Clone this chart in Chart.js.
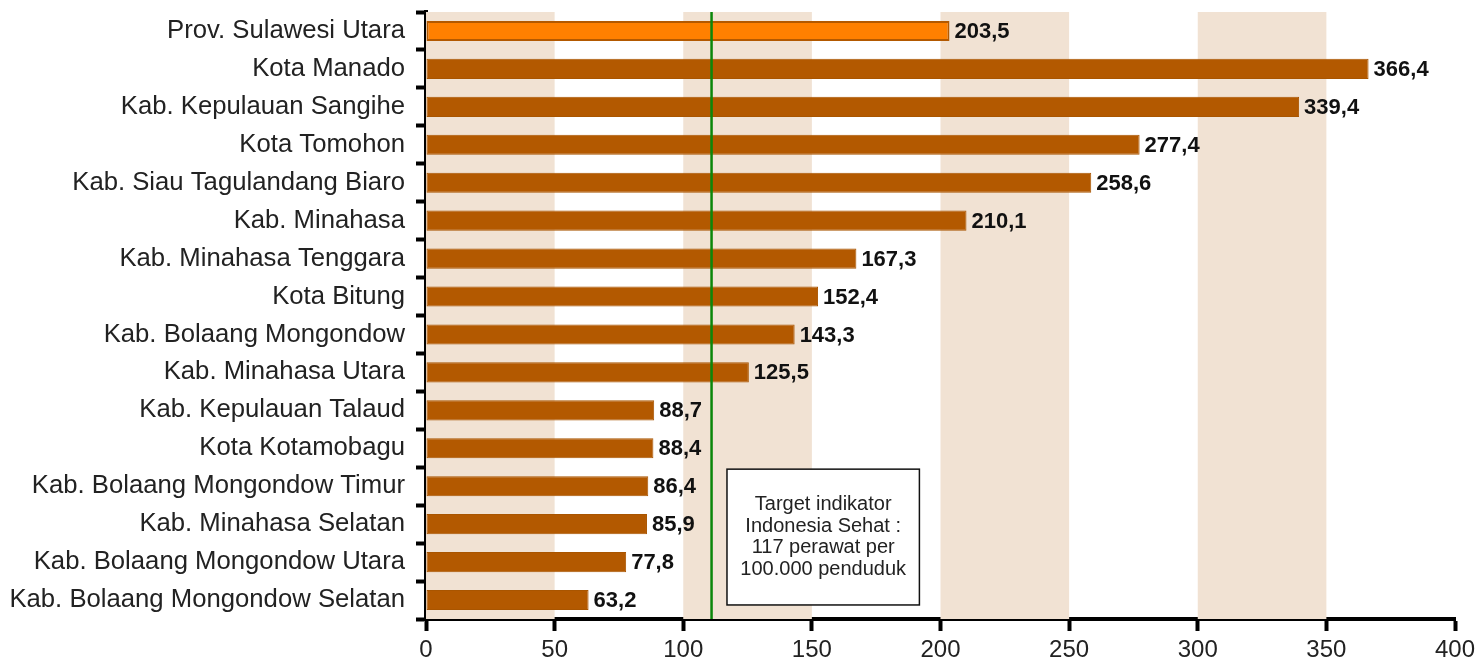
<!DOCTYPE html>
<html>
<head>
<meta charset="utf-8">
<script src="https://cdn.jsdelivr.net/npm/chart.js@4"></script>
<style>
  html, body { margin: 0; padding: 0; background: #fff; }
  #c { display: block; }
</style>
</head>
<body>
<canvas id="c" width="1479" height="663"></canvas>
<script>
const categories = [
  'Prov. Sulawesi Utara',
  'Kota Manado',
  'Kab. Kepulauan Sangihe',
  'Kota Tomohon',
  'Kab. Siau Tagulandang Biaro',
  'Kab. Minahasa',
  'Kab. Minahasa Tenggara',
  'Kota Bitung',
  'Kab. Bolaang Mongondow',
  'Kab. Minahasa Utara',
  'Kab. Kepulauan Talaud',
  'Kota Kotamobagu',
  'Kab. Bolaang Mongondow Timur',
  'Kab. Minahasa Selatan',
  'Kab. Bolaang Mongondow Utara',
  'Kab. Bolaang Mongondow Selatan'
];
const values = [203.5, 366.4, 339.4, 277.4, 258.6, 210.1, 167.3, 152.4, 143.3, 125.5, 88.7, 88.4, 86.4, 85.9, 77.8, 63.2];
const valueLabels = ['203,5', '366,4', '339,4', '277,4', '258,6', '210,1', '167,3', '152,4', '143,3', '125,5', '88,7', '88,4', '86,4', '85,9', '77,8', '63,2'];
const xTickValues = [0, 50, 100, 150, 200, 250, 300, 350, 400];
const bandRanges = [[0, 50], [100, 150], [200, 250], [300, 350]];
const targetLineValue = 111;
const noteLines = ['Target indikator', 'Indonesia Sehat :', '117 perawat per', '100.000 penduduk'];
const noteRange = [117, 191.8];

const FONT = '"Liberation Sans", Arial, Helvetica, sans-serif';

const fixArea = {
  id: 'fixArea',
  afterLayout(chart) {
    // nothing: layout is set through padding and afterFit
  }
};

const decorPlugin = {
  id: 'decor',
  beforeDatasetsDraw(chart) {
    const { ctx, chartArea } = chart;
    const xs = chart.scales.x;
    ctx.save();
    ctx.fillStyle = '#f1e2d3';
    bandRanges.forEach(([a, b]) => {
      const x1 = xs.getPixelForValue(a);
      const x2 = xs.getPixelForValue(b);
      ctx.fillRect(x1, chartArea.top, x2 - x1, chartArea.bottom - chartArea.top);
    });
    ctx.restore();
  },
  afterDatasetsDraw(chart) {
    const { ctx, chartArea } = chart;
    const xs = chart.scales.x;
    const meta = chart.getDatasetMeta(0);
    ctx.save();
    ctx.font = 'bold 22px ' + FONT;
    ctx.fillStyle = '#111';
    ctx.textAlign = 'left';
    ctx.textBaseline = 'middle';
    meta.data.forEach((bar, i) => {
      ctx.fillText(valueLabels[i], bar.x + 5, bar.y + 1);
    });
    const tx = xs.getPixelForValue(targetLineValue);
    ctx.strokeStyle = '#0a870a';
    ctx.lineWidth = 2.5;
    ctx.beginPath();
    ctx.moveTo(tx, chartArea.top);
    ctx.lineTo(tx, chartArea.bottom);
    ctx.stroke();
    const step = (chartArea.bottom - chartArea.top) / categories.length;
    const bx1 = xs.getPixelForValue(noteRange[0]);
    const bx2 = xs.getPixelForValue(noteRange[1]);
    const by1 = chartArea.top + 12.05 * step;
    const by2 = chartArea.top + 15.63 * step;
    ctx.fillStyle = '#fff';
    ctx.fillRect(bx1, by1, bx2 - bx1, by2 - by1);
    ctx.strokeStyle = '#111';
    ctx.lineWidth = 1.5;
    ctx.strokeRect(bx1, by1, bx2 - bx1, by2 - by1);
    ctx.font = '20px ' + FONT;
    ctx.fillStyle = '#222';
    ctx.textAlign = 'center';
    const lh = 21.5;
    const cy = (by1 + by2) / 2;
    const cx = (bx1 + bx2) / 2;
    noteLines.forEach((t, i) => {
      ctx.fillText(t, cx, cy + (i - (noteLines.length - 1) / 2) * lh);
    });
    ctx.restore();
  }
};

new Chart(document.getElementById('c'), {
  type: 'bar',
  data: {
    labels: categories,
    datasets: [{
      data: values,
      backgroundColor: values.map((v, i) => i === 0 ? '#ff8000' : '#b35900'),
      borderColor: values.map((v, i) => i === 0 ? '#b35900' : '#a95500'),
      borderWidth: values.map((v, i) => i === 0 ? 2 : 1),
      borderSkipped: false,
      barPercentage: 0.53,
      categoryPercentage: 1.0
    }]
  },
  options: {
    indexAxis: 'y',
    responsive: false,
    animation: false,
    devicePixelRatio: 1,
    layout: { padding: { top: 0, right: 24, left: 0, bottom: 0 } },
    plugins: {
      legend: { display: false },
      tooltip: { enabled: false }
    },
    scales: {
      x: {
        type: 'linear',
        min: 0,
        max: 400,
        z: 1,
        afterBuildTicks(s) { s.ticks = xTickValues.map(v => ({ value: v })); },
        afterFit(s) { s.height = 44; s.paddingLeft = 0; s.paddingRight = 0; },
        ticks: {
          font: { family: FONT, size: 24 },
          color: '#222',
          padding: 5,
          maxRotation: 0
        },
        grid: {
          drawOnChartArea: false,
          drawTicks: true,
          tickLength: 12,
          tickWidth: 4,
          tickColor: '#000'
        },
        border: { display: true, color: '#000', width: 4 }
      },
      y: {
        z: 1,
        afterFit(s) { s.width = 426; s.paddingTop = 12; s.paddingBottom = 0; },
        ticks: {
          font: { family: FONT, size: 25.7 },
          color: '#222',
          padding: 11
        },
        grid: {
          offset: true,
          drawOnChartArea: false,
          drawTicks: true,
          tickLength: 10,
          tickWidth: 4,
          tickColor: '#000'
        },
        border: { display: true, color: '#000', width: 4 }
      }
    }
  },
  plugins: [decorPlugin]
});
</script>
</body>
</html>
